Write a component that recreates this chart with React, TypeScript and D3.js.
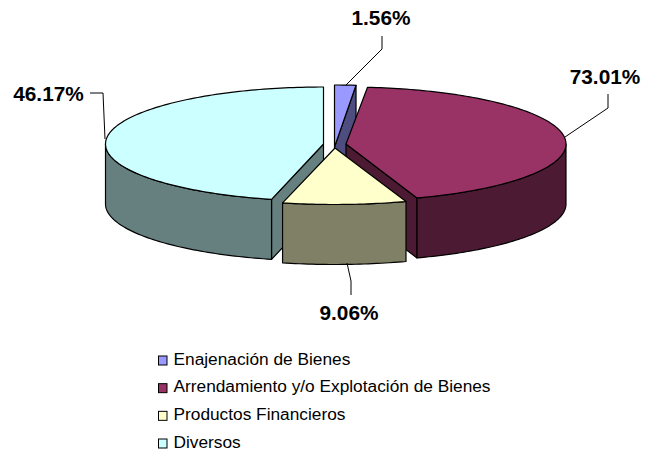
import React from "react";
import * as d3 from "d3";

const categories = ["Enajenación de Bienes", "Arrendamiento y/o Explotación de Bienes", "Productos Financieros", "Diversos"];
const labels = ["1.56%", "73.01%", "9.06%", "46.17%"];
// Share of the drawn pie (the 73.01% slice is drawn as about 43% of the circle)
const sliceShares = [1.56, 43.21, 9.06, 46.17];
const topColors = ["#9999FF", "#993366", "#FFFFCC", "#CCFFFF"];
const sideColors = ["#4D4D80", "#4D1A33", "#808066", "#668080"];
const centersX = [334.5, 346, 335, 323.5];
const centersY = [147, 144, 148, 144];
const radiiX = [220, 220, 220, 218];
const radiiY = [62, 57, 56.5, 57];
const depth = 60;
const drawOrder = [0, 1, 3, 2];
const labelX = [381, 605, 349, 48.5];
const labelY = [25, 83.5, 320, 100.5];
const leaders: [number, number][][] = [
  [[382, 36], [382, 49], [346, 85]],
  [[608, 94], [608, 108], [565, 137]],
  [[347, 263], [351, 281], [351, 295]],
  [[90, 93], [103, 93], [105, 139]],
];

const line = d3.line<[number, number]>();
const legendY = d3.scalePoint<number>().domain([0, 1, 2, 3]).range([360.5, 443.5]);

export default function App() {
  const arcs = d3.pie<number>().sort(null).value((d) => d)(sliceShares);
  const pt = (i: number, a: number): [number, number] => [
    centersX[i] + radiiX[i] * Math.sin(a),
    centersY[i] - radiiY[i] * Math.cos(a),
  ];
  const arcPts = (i: number, a0: number, a1: number) => {
    const n = Math.max(2, Math.ceil(Math.abs(a1 - a0) / 0.02));
    return d3.range(n + 1).map((k) => pt(i, a0 + ((a1 - a0) * k) / n));
  };
  const down = (p: [number, number]): [number, number] => [p[0], p[1] + depth];

  const slices = drawOrder.map((i) => {
    const { startAngle: s, endAngle: e } = arcs[i];
    const c: [number, number] = [centersX[i], centersY[i]];
    const faces: string[] = [];
    // radial faces that look toward the viewer
    if (i === 0 || i === 1) {
      const p = pt(i, e);
      faces.push(line([c, p, down(p), down(c)])! + "Z");
    }
    if (i === 3) {
      const p = pt(i, s);
      faces.push(line([c, p, down(p), down(c)])! + "Z");
    }
    const w0 = Math.max(s, Math.PI / 2);
    const w1 = Math.min(e, (3 * Math.PI) / 2);
    if (w1 > w0) {
      const outer = arcPts(i, w0, w1);
      faces.push(line([...outer, ...outer.map(down).reverse()])! + "Z");
    }
    const top = line([c, ...arcPts(i, s, e)])! + "Z";
    return { i, faces, top };
  });

  return (
    <svg width={656} height={451} style={{ position: "absolute", left: 0, top: 0 }} fontFamily="'Liberation Sans', Arial, sans-serif">
      <rect width={656} height={451} fill="#fff" />
      {slices.map((sl) => (
        <g key={sl.i} stroke="#000" strokeWidth={1.2} strokeLinejoin="round">
          {sl.faces.map((d, k) => (
            <path key={k} d={d} fill={sideColors[sl.i]} />
          ))}
          <path d={sl.top} fill={topColors[sl.i]} />
        </g>
      ))}
      {leaders.map((l, i) => (
        <path key={i} d={line(l)!} fill="none" stroke="#000" strokeWidth={1} />
      ))}
      {labels.map((t, i) => (
        <text key={t} x={labelX[i]} y={labelY[i]} textAnchor="middle" fontSize={20.8} fontWeight="bold" fill="#000">
          {t}
        </text>
      ))}
      {categories.map((c, i) => (
        <g key={c}>
          <rect x={158.5} y={legendY(i)! - 4.5} width={8.5} height={9} fill={topColors[i]} stroke="#000" strokeWidth={1} />
          <text x={173.5} y={legendY(i)! + 4} fontSize={17.3} fill="#000">
            {c}
          </text>
        </g>
      ))}
    </svg>
  );
}
